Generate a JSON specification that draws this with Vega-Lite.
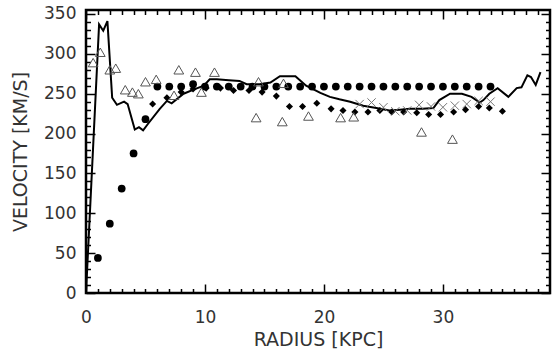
{
  "$schema": "https://vega.github.io/schema/vega-lite/v6.json",
  "width": 464,
  "height": 283,
  "autosize": {"type": "none"},
  "padding": {"left": 86, "top": 10, "right": 10, "bottom": 63},
  "background": "white",
  "config": {
    "view": {"stroke": "black", "strokeWidth": 2.5},
    "axis": {
      "domain": false,
      "tickColor": "black",
      "tickWidth": 1.5,
      "grid": false,
      "labelFont": "DejaVu Sans",
      "titleFont": "DejaVu Sans",
      "labelColor": "#333",
      "titleColor": "#333",
      "labelFontSize": 17,
      "titleFontSize": 19,
      "titleFontWeight": "normal"
    }
  },
  "datasets": {
    "model": [
      {"r": 0.0, "v": 0}, {"r": 1.1, "v": 337}, {"r": 1.45, "v": 329}, {"r": 1.8, "v": 341},
      {"r": 2.2, "v": 245}, {"r": 2.6, "v": 236}, {"r": 3.2, "v": 240}, {"r": 3.5, "v": 237},
      {"r": 4.1, "v": 205}, {"r": 4.45, "v": 208}, {"r": 4.8, "v": 204}, {"r": 5.2, "v": 212},
      {"r": 6.2, "v": 231}, {"r": 6.8, "v": 241}, {"r": 7.2, "v": 238}, {"r": 8.2, "v": 250},
      {"r": 9.2, "v": 256}, {"r": 9.9, "v": 260}, {"r": 10.4, "v": 268}, {"r": 11.0, "v": 268},
      {"r": 12.0, "v": 267}, {"r": 12.9, "v": 266}, {"r": 13.5, "v": 262}, {"r": 14.6, "v": 262},
      {"r": 15.5, "v": 264}, {"r": 16.3, "v": 272}, {"r": 17.6, "v": 272}, {"r": 18.5, "v": 260},
      {"r": 19.7, "v": 251}, {"r": 20.5, "v": 246}, {"r": 21.3, "v": 243}, {"r": 22.2, "v": 240},
      {"r": 23.3, "v": 235}, {"r": 24.4, "v": 232}, {"r": 25.5, "v": 229}, {"r": 26.4, "v": 230},
      {"r": 27.2, "v": 231}, {"r": 28.3, "v": 231}, {"r": 29.2, "v": 232}, {"r": 29.7, "v": 242},
      {"r": 30.6, "v": 250}, {"r": 31.6, "v": 250}, {"r": 32.4, "v": 246}, {"r": 33.1, "v": 239},
      {"r": 33.4, "v": 242}, {"r": 33.9, "v": 250}, {"r": 34.6, "v": 257}, {"r": 35.5, "v": 246},
      {"r": 36.2, "v": 257}, {"r": 36.6, "v": 258}, {"r": 37.1, "v": 273}, {"r": 37.4, "v": 271},
      {"r": 37.8, "v": 261}, {"r": 38.2, "v": 277}
    ],
    "circles": [
      {"r": 1, "v": 44}, {"r": 2, "v": 87}, {"r": 3, "v": 131}, {"r": 4, "v": 175}, {"r": 5, "v": 218},
      {"r": 6, "v": 259}, {"r": 7, "v": 259}, {"r": 8, "v": 259}, {"r": 9, "v": 262}, {"r": 10, "v": 259},
      {"r": 11, "v": 259}, {"r": 12, "v": 259}, {"r": 13, "v": 259}, {"r": 14, "v": 259}, {"r": 15, "v": 259},
      {"r": 16, "v": 259}, {"r": 17, "v": 259}, {"r": 18, "v": 259}, {"r": 19, "v": 259}, {"r": 20, "v": 259},
      {"r": 21, "v": 259}, {"r": 22, "v": 259}, {"r": 23, "v": 259}, {"r": 24, "v": 259}, {"r": 25, "v": 259},
      {"r": 26, "v": 259}, {"r": 27, "v": 259}, {"r": 28, "v": 259}, {"r": 29, "v": 259}, {"r": 30, "v": 259},
      {"r": 31, "v": 259}, {"r": 32, "v": 259}, {"r": 33, "v": 259}, {"r": 34, "v": 259}
    ],
    "diamonds": [
      {"r": 5.6, "v": 237}, {"r": 6.8, "v": 245}, {"r": 8.0, "v": 252}, {"r": 9.0, "v": 256},
      {"r": 10.1, "v": 257}, {"r": 11.3, "v": 257}, {"r": 12.4, "v": 254}, {"r": 13.7, "v": 254},
      {"r": 14.8, "v": 252}, {"r": 16.0, "v": 247}, {"r": 17.1, "v": 234}, {"r": 18.2, "v": 234},
      {"r": 19.4, "v": 238}, {"r": 20.6, "v": 231}, {"r": 21.6, "v": 229}, {"r": 22.6, "v": 227},
      {"r": 23.7, "v": 227}, {"r": 24.7, "v": 229}, {"r": 25.7, "v": 227}, {"r": 26.7, "v": 227},
      {"r": 27.8, "v": 226}, {"r": 28.8, "v": 224}, {"r": 29.8, "v": 224}, {"r": 30.9, "v": 227},
      {"r": 31.9, "v": 230}, {"r": 33.0, "v": 234}, {"r": 33.9, "v": 232}, {"r": 35.0, "v": 228}
    ],
    "triangles": [
      {"r": 0.6, "v": 289}, {"r": 1.2, "v": 302}, {"r": 2.0, "v": 280}, {"r": 2.5, "v": 282},
      {"r": 3.3, "v": 255}, {"r": 3.9, "v": 252}, {"r": 4.4, "v": 250}, {"r": 5.0, "v": 265},
      {"r": 5.9, "v": 268}, {"r": 7.4, "v": 248}, {"r": 7.8, "v": 280}, {"r": 9.2, "v": 277},
      {"r": 9.7, "v": 252}, {"r": 10.8, "v": 277}, {"r": 14.3, "v": 220}, {"r": 14.5, "v": 265},
      {"r": 16.5, "v": 215}, {"r": 16.6, "v": 263}, {"r": 18.7, "v": 222}, {"r": 21.4, "v": 220},
      {"r": 22.5, "v": 221}, {"r": 28.2, "v": 202}, {"r": 30.8, "v": 193}
    ],
    "crosses": [
      {"r": 23, "v": 237}, {"r": 24, "v": 239}, {"r": 25, "v": 233}, {"r": 26, "v": 228},
      {"r": 27, "v": 229}, {"r": 28, "v": 236}, {"r": 29, "v": 234}, {"r": 30, "v": 233},
      {"r": 31, "v": 235}, {"r": 32, "v": 237}, {"r": 33, "v": 241}, {"r": 34, "v": 240}
    ]
  },
  "resolve": {"axis": {"x": "independent", "y": "independent"}},
  "layer": [
    {
      "data": {"name": "model"},
      "mark": {"type": "line", "color": "black", "strokeWidth": 2, "clip": true},
      "encoding": {
        "x": {"field": "r", "type": "quantitative", "scale": {"domain": [0, 39], "nice": false, "zero": false},
              "axis": {"orient": "bottom", "values": [0, 10, 20, 30], "ticks": false, "labelPadding": 16, "title": "RADIUS [KPC]", "titlePadding": 5, "labelFlush": false}},
        "y": {"field": "v", "type": "quantitative", "scale": {"domain": [0, 355], "nice": false, "zero": false},
              "axis": {"orient": "left", "values": [0, 50, 100, 150, 200, 250, 300, 350], "ticks": false, "labelPadding": 10, "title": "VELOCITY [KM/S]", "titlePadding": 13, "labelFlush": false}}
      }
    },
    {
      "data": {"name": "circles"},
      "mark": {"type": "point", "shape": "circle", "filled": true, "color": "black", "size": 60, "opacity": 1},
      "encoding": {
        "x": {"field": "r", "type": "quantitative",
              "axis": {"orient": "bottom", "offset": -9, "values": [0, 10, 20, 30], "tickSize": 9, "labels": false, "title": null}},
        "y": {"field": "v", "type": "quantitative",
              "axis": {"orient": "left", "offset": -9, "values": [0, 50, 100, 150, 200, 250, 300, 350], "tickSize": 9, "labels": false, "title": null}}
      }
    },
    {
      "data": {"name": "diamonds"},
      "mark": {"type": "point", "shape": "diamond", "filled": true, "color": "black", "size": 50, "opacity": 1},
      "encoding": {
        "x": {"field": "r", "type": "quantitative",
              "axis": {"orient": "bottom", "offset": -4.5, "values": [1,2,3,4,5,6,7,8,9,11,12,13,14,15,16,17,18,19,21,22,23,24,25,26,27,28,29,31,32,33,34,35,36,37,38], "tickSize": 4.5, "labels": false, "title": null}},
        "y": {"field": "v", "type": "quantitative",
              "axis": {"orient": "left", "offset": -4.5, "values": [10,20,30,40,60,70,80,90,110,120,130,140,160,170,180,190,210,220,230,240,260,270,280,290,310,320,330,340], "tickSize": 4.5, "labels": false, "title": null}}
      }
    },
    {
      "data": {"name": "triangles"},
      "mark": {"type": "point", "shape": "triangle-up", "filled": false, "stroke": "#555", "strokeWidth": 1, "size": 95, "opacity": 1},
      "encoding": {
        "x": {"field": "r", "type": "quantitative",
              "axis": {"orient": "top", "offset": -9, "values": [0, 10, 20, 30], "tickSize": 9, "labels": false, "title": null}},
        "y": {"field": "v", "type": "quantitative",
              "axis": {"orient": "right", "offset": -9, "values": [0, 50, 100, 150, 200, 250, 300, 350], "tickSize": 9, "labels": false, "title": null}}
      }
    },
    {
      "data": {"name": "crosses"},
      "mark": {"type": "point", "shape": "M-1,-1L1,1M-1,1L1,-1", "filled": false, "stroke": "#777", "strokeWidth": 1, "size": 70, "opacity": 1},
      "encoding": {
        "x": {"field": "r", "type": "quantitative",
              "axis": {"orient": "top", "offset": -4.5, "values": [1,2,3,4,5,6,7,8,9,11,12,13,14,15,16,17,18,19,21,22,23,24,25,26,27,28,29,31,32,33,34,35,36,37,38], "tickSize": 4.5, "labels": false, "title": null}},
        "y": {"field": "v", "type": "quantitative",
              "axis": {"orient": "right", "offset": -4.5, "values": [10,20,30,40,60,70,80,90,110,120,130,140,160,170,180,190,210,220,230,240,260,270,280,290,310,320,330,340], "tickSize": 4.5, "labels": false, "title": null}}
      }
    }
  ]
}
